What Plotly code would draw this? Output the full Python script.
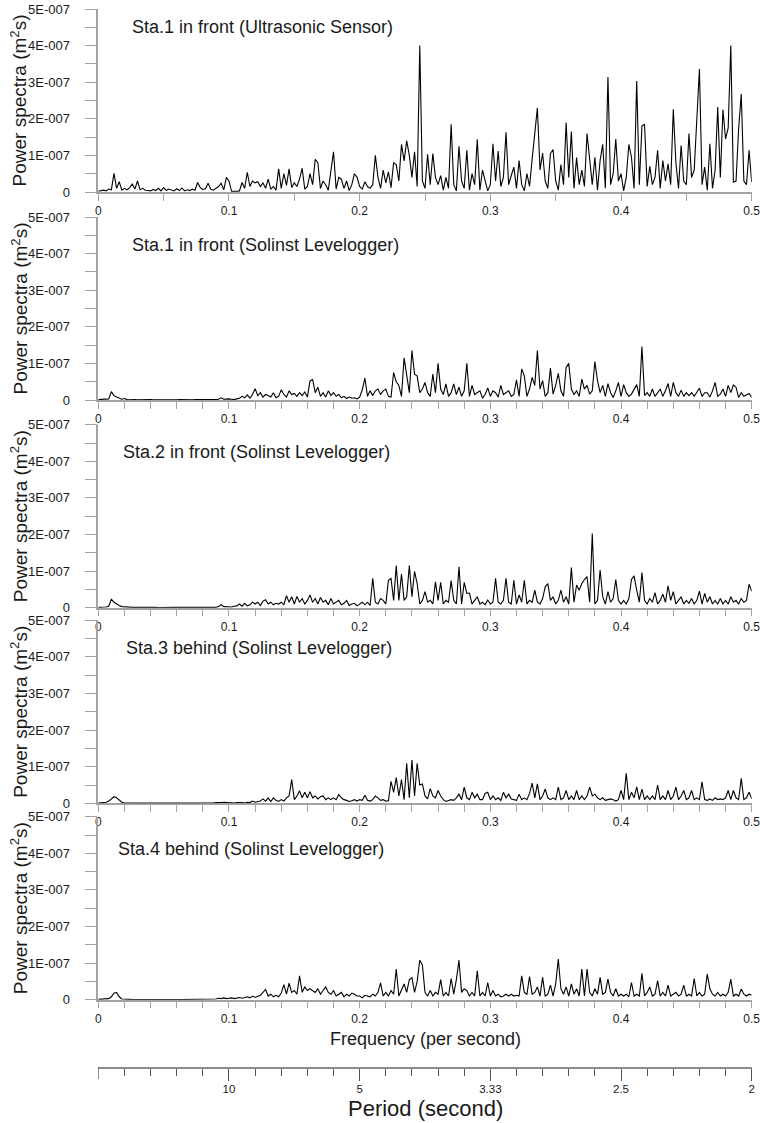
import numpy as np
import plotly.graph_objects as go

# ---------------------------------------------------------------------------
# Power spectra of water-surface records, 0 - 0.5 Hz.
# Spectral values are listed in units of 1E-008 m^2 s on a 0.002 Hz grid.
# ---------------------------------------------------------------------------
FREQ_STEP = 0.002
PSD_UNIT = 1e-8

station_titles = [
    "Sta.1 in front (Ultrasonic Sensor)",
    "Sta.1 in front (Solinst Levelogger)",
    "Sta.2 in front (Solinst Levelogger)",
    "Sta.3 behind (Solinst Levelogger)",
    "Sta.4 behind (Solinst Levelogger)",
]

sta1_ultrasonic = [
    0.2, 0.3, 0.5, 0.3, 0.8, 0.6, 5.1, 1.0, 2.8, 0.5,
    1.0, 0.6, 1.2, 2.2, 0.8, 3.0, 0.6, 1.0, 0.5, 0.4,
    0.3, 0.7, 0.4, 1.0, 0.3, 1.2, 0.4, 0.8, 0.5, 0.3,
    0.9, 0.4, 1.1, 0.3, 0.6, 0.4, 0.8, 0.5, 2.6, 1.2,
    0.7, 0.9, 2.4, 0.8, 0.5, 1.0, 1.5, 2.4, 0.6, 4.0,
    3.0, 0.2, 0.1, 0.2, 0.3, 2.6, 1.0, 5.4, 1.5, 3.0,
    2.5, 2.8, 1.5, 2.5, 1.0, 3.5, 0.8, 1.5, 0.5, 6.3,
    1.0, 5.0, 1.8, 6.3, 1.2, 2.5, 1.5, 3.5, 6.5, 0.8,
    1.5, 5.0, 2.0, 8.9, 8.0, 1.0, 3.0, 2.0, 0.5, 6.0,
    11.0, 0.8, 4.0, 3.5, 1.0, 3.0, 0.4, 2.0, 5.0, 4.0,
    1.5, 0.8, 2.8, 1.5, 1.0, 2.0, 10.0, 4.0, 1.0, 6.0,
    2.5, 5.5, 1.2, 8.0, 7.5, 3.0, 13.0, 8.5, 14.0, 10.0,
    4.0, 11.0, 1.5, 40.0, 3.0, 1.0, 10.3, 2.0, 10.5, 4.0,
    2.0, 4.5, 0.5, 4.0, 1.0, 18.5, 2.0, 0.3, 12.5, 3.0,
    1.0, 11.4, 0.5, 5.0, 2.0, 14.4, 0.5, 6.0, 3.5, 0.3,
    2.0, 13.2, 3.0, 11.2, 1.5, 4.0, 16.3, 2.0, 4.5, 6.8,
    1.0, 8.6, 2.0, 0.3, 5.0, 1.5, 9.0, 16.0, 23.0, 6.0,
    10.6, 3.0, 1.0, 10.5, 11.6, 3.0, 0.5, 7.5, 2.0, 19.0,
    4.0, 16.5, 1.0, 9.4, 2.0, 6.0, 1.5, 16.0, 8.0, 2.0,
    9.5, 0.5, 8.6, 13.0, 1.0, 31.4, 2.0, 5.0, 14.5, 3.0,
    5.0, 0.3, 4.0, 13.0, 9.5, 1.0, 30.3, 2.0, 18.0, 18.5,
    1.5, 7.0, 2.0, 4.0, 11.4, 1.0, 8.6, 3.0, 7.7, 2.0,
    22.6, 8.0, 1.0, 12.7, 3.0, 2.0, 16.0, 4.0, 6.0, 21.8,
    33.6, 2.0, 6.8, 0.5, 13.2, 1.0, 6.0, 23.2, 4.0, 22.5,
    14.5, 17.5, 40.0, 2.7, 3.0, 17.3, 26.8, 3.0, 2.0, 11.4,
    2.7,
]

sta1_levelogger = [
    0.1, 0.1, 0.1, 0.2, 0.3, 2.3, 1.2, 0.8, 0.5, 0.2,
    0.4, 0.1, 0.08, 0.15, 0.1, 0.06, 0.1, 0.08, 0.1, 0.06,
    0.1, 0.08, 0.06, 0.1, 0.08, 0.1, 0.06, 0.08, 0.1, 0.06,
    0.08, 0.1, 0.06, 0.08, 0.1, 0.08, 0.06, 0.1, 0.08, 0.1,
    0.06, 0.1, 0.08, 0.1, 0.06, 0.1, 0.2, 0.6, 0.2, 0.3,
    0.3, 0.2, 0.1, 0.3, 0.5, 1.0, 0.6, 1.4, 0.5, 1.5,
    3.1, 1.2, 2.0, 0.8, 1.5, 1.2, 0.8, 2.0, 0.6, 1.0,
    2.8, 1.5, 0.8, 2.5, 1.5, 1.8, 1.0, 2.0, 1.2, 2.2,
    0.8, 5.2, 5.6, 2.0, 3.5, 1.0, 2.0, 0.8, 2.5, 1.2,
    2.0, 1.0, 1.5, 0.6, 1.0, 0.4, 0.8, 0.5, 0.6, 0.3,
    0.8, 2.8, 6.0, 1.0, 2.5, 1.2, 2.5, 3.0, 1.5, 2.5,
    3.0, 1.0, 0.8, 7.5, 5.0, 4.0, 1.0, 11.5, 6.0, 2.0,
    13.5, 7.0, 6.6, 2.0, 3.0, 4.8, 2.0, 1.0, 7.1, 2.0,
    10.0, 3.0, 1.5, 4.4, 1.0, 2.0, 4.4, 1.5, 3.5, 1.0,
    2.5, 10.0, 1.0, 4.0, 1.5, 2.0, 2.5, 0.5, 1.5, 3.3,
    1.0, 2.5, 2.0, 0.8, 4.0, 1.5, 2.0, 2.5, 1.0, 1.5,
    5.5, 1.0, 8.5, 6.6, 1.0, 3.0, 6.2, 4.0, 13.5, 3.0,
    5.3, 1.0, 2.0, 8.7, 1.6, 4.0, 7.3, 2.5, 1.0, 8.9,
    10.0, 3.0, 1.5, 2.5, 1.0, 5.7, 3.0, 4.0, 1.6, 2.5,
    10.5, 5.3, 2.0, 4.0, 1.0, 4.5, 2.0, 0.7, 2.5, 4.8,
    1.0, 4.2, 2.0, 1.0, 1.6, 3.0, 4.2, 1.0, 14.6, 1.2,
    2.0, 1.0, 3.0, 1.0, 2.0, 3.0, 1.0, 2.5, 4.5, 1.0,
    4.8, 2.0, 1.0, 2.7, 1.0, 2.0, 1.2, 2.0, 1.0, 2.0,
    3.2, 1.0, 2.0, 2.0, 0.8, 2.5, 4.8, 1.0, 1.6, 3.0,
    1.0, 4.0, 2.0, 4.1, 3.5, 0.7, 2.0, 1.0, 1.5, 1.8,
    0.7,
]

sta2_levelogger = [
    0.1, 0.1, 0.1, 0.2, 0.4, 2.3, 1.5, 1.0, 0.6, 0.3,
    0.3, 0.1, 0.2, 0.1, 0.08, 0.1, 0.06, 0.1, 0.08, 0.1,
    0.06, 0.08, 0.1, 0.06, 0.1, 0.08, 0.1, 0.06, 0.08, 0.1,
    0.08, 0.06, 0.1, 0.08, 0.1, 0.06, 0.08, 0.1, 0.06, 0.08,
    0.1, 0.08, 0.1, 0.06, 0.1, 0.1, 0.3, 0.8, 0.3, 0.2,
    0.3, 0.2, 0.4, 0.5, 1.0, 0.4, 1.2, 0.5, 0.8, 1.5,
    1.0, 1.5, 0.6, 1.8, 2.2, 1.0, 1.5, 0.8, 1.2, 1.0,
    1.5, 0.8, 3.3, 1.5, 3.0, 1.0, 3.1, 1.5, 2.5, 1.0,
    2.0, 3.5, 1.5, 2.5, 1.0, 2.8, 1.5, 2.0, 0.8, 2.5,
    1.0, 1.5, 2.0, 0.8, 1.2, 2.0, 0.6, 1.0, 1.2, 0.5,
    1.0, 1.5, 0.8, 1.5, 0.6, 8.0, 1.5, 1.0, 2.5, 2.0,
    1.0, 7.5, 8.0, 2.0, 11.5, 2.0, 9.2, 2.0, 3.0, 11.5,
    3.0, 9.9, 6.6, 1.0, 2.0, 4.4, 1.5, 2.0, 1.0, 7.1,
    2.0, 6.9, 1.0, 2.0, 1.5, 7.4, 2.0, 1.0, 11.2, 1.0,
    6.9, 3.9, 4.0, 1.0, 2.0, 3.0, 1.0, 1.5, 0.8, 2.1,
    1.0, 1.5, 8.0, 1.5, 1.0, 2.0, 8.0, 1.5, 1.0, 7.5,
    1.0, 3.5, 1.5, 7.5, 1.0, 2.0, 1.5, 4.8, 1.5, 1.0,
    2.5, 5.7, 6.6, 2.0, 3.0, 1.0, 2.0, 4.8, 1.5, 3.0,
    1.0, 11.0, 1.5, 6.2, 4.8, 6.6, 7.7, 8.5, 1.5, 20.3,
    1.0, 2.0, 10.3, 3.0, 1.0, 4.4, 1.5, 2.5, 7.7, 2.0,
    1.0, 2.0, 1.0, 2.5, 7.7, 8.7, 4.8, 1.5, 9.6, 2.0,
    1.0, 2.5, 1.5, 4.1, 1.0, 2.0, 3.7, 1.5, 6.0, 2.0,
    4.4, 1.0, 2.0, 3.0, 1.0, 2.0, 1.2, 2.5, 1.0, 2.0,
    4.5, 1.0, 3.9, 1.5, 3.0, 1.0, 2.0, 1.0, 2.5, 1.0,
    2.0, 1.0, 3.0, 1.5, 2.0, 1.0, 2.5, 1.5, 2.0, 6.4,
    4.5,
]

sta3_levelogger = [
    0.1, 0.1, 0.2, 0.3, 0.6, 1.2, 1.8, 1.5, 0.8, 0.3,
    0.1, 0.06, 0.05, 0.08, 0.05, 0.06, 0.05, 0.08, 0.05, 0.06,
    0.05, 0.08, 0.06, 0.05, 0.08, 0.05, 0.06, 0.05, 0.08, 0.06,
    0.05, 0.06, 0.08, 0.05, 0.06, 0.05, 0.08, 0.06, 0.05, 0.08,
    0.05, 0.05, 0.1, 0.05, 0.1, 0.2, 0.1, 0.2, 0.3, 0.2,
    0.3, 0.2, 0.1, 0.2, 0.3, 0.2, 0.1, 0.3, 0.2, 0.6,
    0.3, 0.4, 0.6, 1.2, 0.6, 1.5, 0.5, 1.5, 0.8, 0.5,
    1.0, 0.6, 1.5, 2.0, 6.5, 1.0, 2.0, 3.4, 1.5, 3.0,
    1.5, 3.2, 1.5, 2.0, 1.2, 1.8, 2.0, 1.0, 1.5, 1.0,
    1.5, 1.0, 2.4, 1.5, 1.0, 0.8, 0.5, 0.7, 1.0, 0.6,
    1.0, 0.8, 2.2, 0.8, 0.6, 1.0, 2.0, 1.5, 0.8, 1.0,
    0.6, 0.7, 6.0, 3.0, 7.0, 2.0, 6.5, 1.0, 10.9, 1.5,
    11.8, 2.0, 10.9, 5.0, 5.3, 2.0, 1.2, 4.0, 2.0, 1.5,
    3.5, 2.0, 1.0, 0.5, 0.8, 1.0, 0.8, 1.5, 2.5, 1.0,
    4.4, 1.5, 1.0, 3.0, 1.5, 2.5, 1.0, 1.0, 2.7, 3.0,
    1.0, 2.0, 1.0, 1.5, 0.8, 3.0, 1.5, 2.5, 1.2, 1.0,
    0.8, 2.5, 1.0, 1.5, 1.0, 2.7, 5.5, 1.5, 5.3, 1.0,
    2.0, 3.9, 1.5, 1.0, 1.5, 1.0, 4.4, 1.0, 1.5, 3.5,
    1.0, 2.0, 1.0, 3.5, 1.0, 2.0, 1.0, 2.0, 4.4, 2.0,
    2.5, 1.5, 1.0, 1.5, 0.8, 1.0, 1.2, 1.0, 0.6, 1.0,
    3.5, 1.0, 8.2, 1.0, 3.0, 1.5, 4.5, 1.0, 3.9, 1.0,
    2.0, 1.0, 2.0, 1.0, 5.0, 1.0, 2.0, 1.0, 3.5, 1.0,
    2.0, 4.4, 1.0, 2.0, 3.5, 1.0, 1.5, 3.5, 1.0, 1.5,
    1.0, 5.9, 1.0, 0.8, 1.2, 0.8, 1.5, 1.0, 1.2, 1.0,
    1.5, 3.5, 1.0, 3.5, 1.5, 1.0, 6.8, 1.0, 1.5, 3.0,
    1.2,
]

sta4_levelogger = [
    0.1, 0.2, 0.1, 0.2, 0.3, 0.8, 1.8, 2.0, 0.8, 0.2,
    0.1, 0.06, 0.08, 0.05, 0.06, 0.08, 0.05, 0.06, 0.05, 0.08,
    0.06, 0.05, 0.08, 0.06, 0.05, 0.06, 0.08, 0.05, 0.06, 0.05,
    0.08, 0.06, 0.05, 0.06, 0.08, 0.05, 0.06, 0.08, 0.05, 0.06,
    0.05, 0.1, 0.05, 0.1, 0.1, 0.2, 0.4, 0.3, 0.5, 0.3,
    0.4, 0.5, 0.3, 0.4, 0.6, 0.4, 0.5, 0.8, 0.5, 1.0,
    0.6, 0.8, 1.2, 2.0, 2.8, 1.0, 1.5, 0.8, 1.2, 0.8,
    1.8, 4.1, 1.5, 4.5, 2.0, 2.5, 1.5, 6.5, 2.0, 3.5,
    2.5, 3.0, 2.5, 2.0, 3.0, 1.5, 2.5, 3.5, 2.0, 1.5,
    2.5, 1.0, 1.5, 2.0, 0.8, 1.5, 1.0, 1.8, 1.5, 1.0,
    1.0, 0.5, 1.2, 1.0, 0.8, 1.5, 1.0, 2.0, 4.6, 1.0,
    2.0, 1.0, 2.5, 1.5, 8.4, 1.0, 2.5, 4.3, 2.0, 5.5,
    6.0, 2.0, 5.0, 10.8, 9.5, 2.0, 1.0, 2.5, 1.0, 2.0,
    1.5, 5.5, 1.0, 2.0, 1.0, 5.8, 1.5, 5.5, 10.8, 2.0,
    3.0, 2.5, 1.0, 2.0, 1.0, 7.9, 1.0, 2.0, 1.0, 4.7,
    1.0, 2.5, 1.0, 1.5, 0.8, 1.0, 1.5, 1.0, 1.5, 1.0,
    1.2, 1.0, 6.5, 2.0, 1.5, 6.3, 1.5, 2.0, 3.5, 1.0,
    6.1, 1.0, 1.5, 4.0, 1.0, 4.3, 11.1, 3.0, 1.5, 3.5,
    1.0, 4.3, 1.5, 3.0, 1.0, 8.4, 1.0, 8.4, 2.0, 1.0,
    3.0, 1.5, 6.1, 1.5, 2.0, 5.6, 2.0, 1.0, 3.0, 1.0,
    1.5, 1.0, 1.5, 0.8, 4.7, 1.0, 1.5, 1.0, 7.2, 1.0,
    2.0, 3.5, 1.0, 1.5, 5.2, 1.0, 2.0, 1.0, 4.0, 1.0,
    1.5, 2.0, 1.0, 1.5, 4.0, 1.0, 1.5, 1.0, 5.8, 1.0,
    2.0, 1.0, 1.5, 7.0, 3.0, 1.5, 1.0, 2.0, 1.0, 1.5,
    1.0, 2.0, 5.6, 1.0, 1.5, 1.0, 2.9, 1.5, 1.0, 1.5,
    1.2,
]

spectra = [sta1_ultrasonic, sta1_levelogger, sta2_levelogger,
           sta3_levelogger, sta4_levelogger]

freq_ticks = [0, 0.1, 0.2, 0.3, 0.4, 0.5]
freq_tick_labels = ["0", "0.1", "0.2", "0.3", "0.4", "0.5"]
power_ticks = [0, 1e-7, 2e-7, 3e-7, 4e-7, 5e-7]
power_tick_labels = ["0", "1E-007", "2E-007", "3E-007", "4E-007", "5E-007"]
period_ticks = [0.1, 0.2, 0.3, 0.4, 0.5]
period_tick_labels = ["10", "5", "3.33", "2.5", "2"]

# ---------------------------------------------------------------------------
# Page geometry (pixels, origin top-left)
# ---------------------------------------------------------------------------
W, H = 760, 1123
X_LEFT, X_RIGHT = 98.3, 751.7
PANEL_H = 183
panel_bottom_px = [192.0, 400.0, 607.7, 803.3, 999.7]
panel_title_px = [(130, 26.7), (130, 245), (121, 451.7), (124, 648.3), (116, 849.3)]
PERIOD_LINE_PX = 1067
PERIOD_MAJOR_LEN = 12
PERIOD_MINOR_LEN = 7

FONT = "Liberation Sans, Arial, sans-serif"
AXIS_GRAY = "#a3a3a3"
TEXT = "#1a1a1a"


def px_(p):
    """Pixel column -> paper fraction."""
    return p / W


def py(p):
    """Pixel row -> paper fraction."""
    return 1 - p / H


x_domain = [px_(X_LEFT), px_(X_RIGHT)]

fig = go.Figure()
layout = dict(
    width=W, height=H,
    margin=dict(l=0, r=0, t=0, b=0, pad=0, autoexpand=False),
    paper_bgcolor="white", plot_bgcolor="white",
    showlegend=False,
    font=dict(family=FONT, color=TEXT),
)

annotations = []
shapes = []
y_minor = [0.5e-7, 1.5e-7, 2.5e-7, 3.5e-7, 4.5e-7]

for k, vals in enumerate(spectra):
    n = k + 1
    xs = np.arange(len(vals)) * FREQ_STEP
    ys = np.array(vals) * PSD_UNIT
    fig.add_trace(go.Scatter(
        x=xs, y=ys, mode="lines",
        line=dict(color="black", width=1.1),
        xaxis=f"x{n}", yaxis=f"y{n}", hoverinfo="skip",
    ))

    bottom = panel_bottom_px[k]
    top = bottom - PANEL_H
    minor_step = 0.05 if k == 0 else 0.02
    x_minor = [round(v, 3) for v in np.arange(0, 0.5001, minor_step)
               if abs(v * 10 - round(v * 10)) > 1e-6]

    layout[f"xaxis{n}"] = dict(
        domain=x_domain, anchor=f"y{n}", range=[0, 0.5], automargin=False,
        showline=True, linecolor=AXIS_GRAY, linewidth=1.5,
        ticks="outside", ticklen=7, tickwidth=1.2, tickcolor=AXIS_GRAY,
        tickmode="array", tickvals=freq_ticks, ticktext=freq_tick_labels,
        tickfont=dict(size=12, color=TEXT, family=FONT),
        ticklabeloverflow="allow",
        minor=dict(tickmode="array", tickvals=x_minor, ticks="outside",
                   ticklen=7, tickwidth=1.2, tickcolor=AXIS_GRAY, showgrid=False),
        showgrid=False, zeroline=False, layer="below traces",
        fixedrange=True,
    )
    layout[f"yaxis{n}"] = dict(
        domain=[py(bottom), py(top)], anchor=f"x{n}", range=[0, 5e-7],
        automargin=False,
        showline=True, linecolor=AXIS_GRAY, linewidth=1.5,
        ticks="outside", ticklen=12, tickwidth=1.2, tickcolor=AXIS_GRAY,
        tickmode="array", tickvals=power_ticks, ticktext=power_tick_labels,
        tickfont=dict(size=13, color=TEXT, family=FONT),
        ticklabelstandoff=12, ticklabeloverflow="allow",
        minor=dict(tickmode="array", tickvals=y_minor, ticks="outside",
                   ticklen=12, tickwidth=1.2, tickcolor=AXIS_GRAY, showgrid=False),
        showgrid=False, zeroline=False, layer="below traces",
        fixedrange=True,
    )

    # axis title and station title
    annotations.append(dict(
        text="Power spectra (m<sup>2</sup>s)", textangle=-90,
        x=px_(19), y=py((top + bottom) / 2), xref="paper", yref="paper",
        xanchor="center", yanchor="middle", showarrow=False,
        font=dict(size=19, family=FONT, color=TEXT),
    ))
    tx, ty = panel_title_px[k]
    annotations.append(dict(
        text=station_titles[k], x=px_(tx), y=py(ty), xref="paper", yref="paper",
        xanchor="left", yanchor="middle", showarrow=False,
        font=dict(size=18, family=FONT, color=TEXT),
    ))

# Period axis underneath the spectra
fig.add_trace(go.Scatter(
    x=[0, 0.5], y=[0, 0], mode="lines", opacity=0,
    xaxis="x6", yaxis="y6", hoverinfo="skip",
))
period_minor = [round(v, 3) for v in np.arange(0, 0.5001, 0.02)
                if abs(v * 10 - round(v * 10)) > 1e-6]
layout["yaxis6"] = dict(domain=[py(PERIOD_LINE_PX), py(PERIOD_LINE_PX - 1)],
                        anchor="x6", visible=False, range=[0, 1],
                        automargin=False, fixedrange=True)
layout["xaxis6"] = dict(
    domain=x_domain, anchor="y6", range=[0, 0.5], side="bottom", automargin=False,
    showline=True, linecolor="#8c8c8c", linewidth=1.5,
    ticks="outside", ticklen=PERIOD_MAJOR_LEN, tickwidth=1.2, tickcolor="#555555",
    tickmode="array", tickvals=period_ticks, ticktext=period_tick_labels,
    tickfont=dict(size=11.5, color=TEXT, family=FONT),
    ticklabelstandoff=-2, ticklabeloverflow="allow",
    minor=dict(tickmode="array", tickvals=period_minor, ticks="outside",
               ticklen=PERIOD_MINOR_LEN, tickwidth=1.2, tickcolor="#555555",
               showgrid=False),
    showgrid=False, zeroline=False, fixedrange=True,
)
# unlabeled long tick where the period is infinite (frequency 0)
shapes.append(dict(
    type="line", xref="x6", yref="paper", x0=0, x1=0,
    y0=py(PERIOD_LINE_PX), y1=py(PERIOD_LINE_PX + PERIOD_MAJOR_LEN),
    line=dict(color="#555555", width=1.2),
))

annotations.append(dict(
    text="Frequency (per second)", x=px_((X_LEFT + X_RIGHT) / 2), y=py(1039),
    xref="paper", yref="paper", xanchor="center", yanchor="middle",
    showarrow=False, font=dict(size=18, family=FONT, color=TEXT),
))
annotations.append(dict(
    text="Period (second)", x=px_((X_LEFT + X_RIGHT) / 2), y=py(1108),
    xref="paper", yref="paper", xanchor="center", yanchor="middle",
    showarrow=False, font=dict(size=22, family=FONT, color=TEXT),
))

layout["annotations"] = annotations
layout["shapes"] = shapes
fig.update_layout(**layout)
fig.write_html("out.html")
